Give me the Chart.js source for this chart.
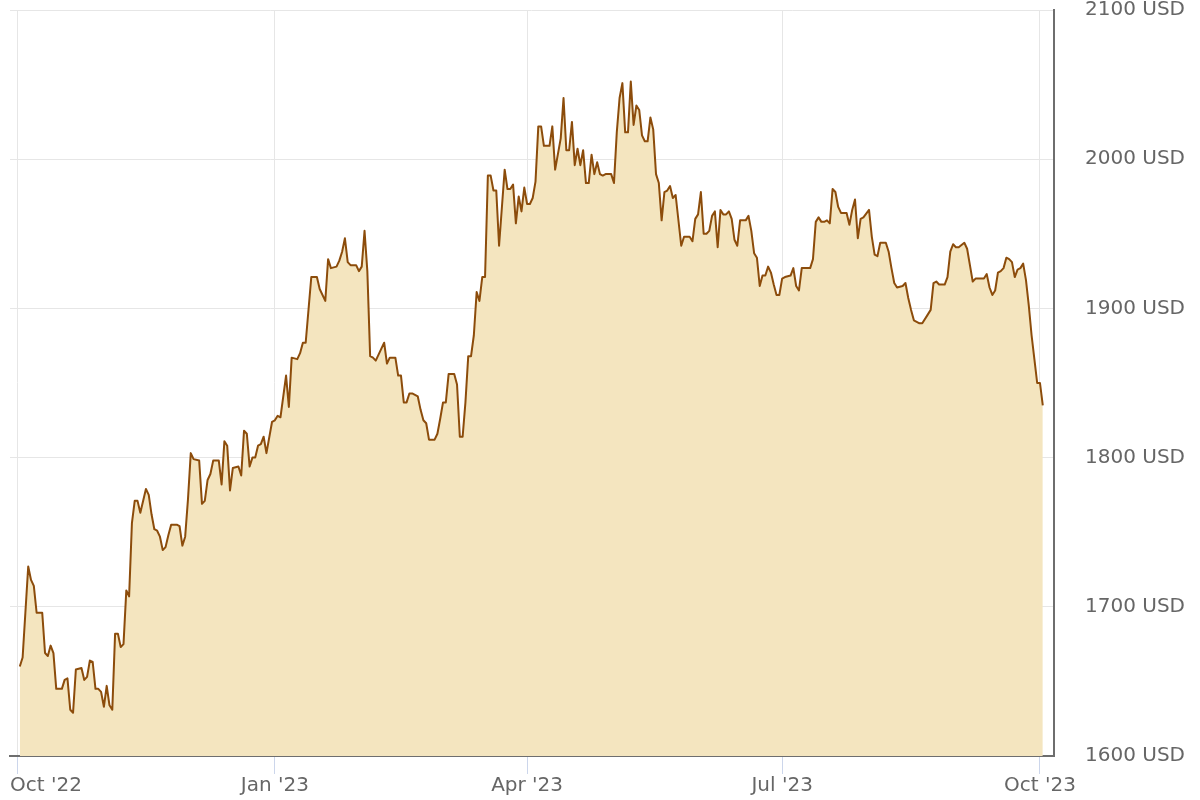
<!DOCTYPE html>
<html>
<head>
<meta charset="utf-8">
<title>Gold price</title>
<script src="https://cdn.jsdelivr.net/npm/chart.js@4.4.1/dist/chart.umd.min.js"></script>
<style>
  html, body { margin: 0; padding: 0; background: #fff; }
  #wrap { width: 1200px; height: 800px; position: relative; }
</style>
</head>
<body>
<div id="wrap"><canvas id="chart"></canvas></div>
<script>
// days counted from 1 Oct 2022 (day 0), price in USD per ounce
const days = [
  1, 2, 4, 5, 6, 7, 9, 10, 11, 12, 13, 14, 16, 17, 18, 19, 20, 21, 23, 24,
  25, 26, 27, 28, 29, 30, 31, 32, 33, 34, 35, 36, 37, 38, 39, 40, 41, 42, 43, 44,
  46, 47, 48, 49, 50, 51, 52, 53, 54, 55, 57, 58, 59, 60, 61, 62, 63, 65, 66, 67,
  68, 69, 70, 72, 73, 74, 75, 76, 77, 79, 80, 81, 82, 83, 84, 85, 86, 87, 88, 89,
  91, 92, 93, 94, 96, 97, 98, 100, 101, 102, 103, 105, 107, 108, 110, 111, 112, 114, 115, 116,
  117, 118, 119, 121, 122, 123, 124, 125, 126, 127, 128, 130, 131, 132, 133, 135, 136, 137, 138, 139,
  140, 141, 143, 144, 145, 146, 147, 149, 150, 151, 152, 153, 154, 156, 157, 158, 159, 160, 161, 162,
  163, 164, 165, 166, 167, 168, 169, 170, 171, 172, 174, 175, 176, 177, 178, 179, 180, 181, 182, 183,
  184, 185, 186, 187, 188, 190, 191, 192, 194, 195, 196, 197, 198, 199, 200, 201, 202, 203, 204, 205,
  206, 207, 208, 209, 210, 212, 213, 214, 215, 216, 217, 218, 219, 220, 221, 222, 223, 224, 225, 226,
  227, 228, 229, 230, 231, 232, 233, 234, 235, 237, 238, 240, 241, 242, 243, 244, 245, 246, 247, 248,
  249, 250, 251, 252, 253, 254, 255, 256, 257, 258, 260, 261, 262, 263, 264, 265, 266, 267, 268, 269,
  270, 271, 272, 273, 274, 276, 277, 278, 279, 280, 281, 283, 284, 285, 286, 287, 288, 289, 290, 291,
  292, 293, 294, 296, 297, 298, 299, 300, 301, 302, 304, 305, 306, 307, 308, 310, 311, 312, 313, 314,
  316, 317, 318, 319, 320, 322, 323, 325, 326, 327, 328, 329, 331, 332, 333, 334, 335, 336, 338, 339,
  340, 341, 342, 343, 345, 346, 347, 348, 349, 350, 351, 352, 353, 354, 355, 356, 357, 358, 359, 360,
  361, 362, 363, 364, 365, 366
];
const prices = [
  1660, 1666, 1727, 1718, 1714, 1696, 1696, 1669, 1667, 1674, 1669, 1645, 1645, 1651, 1652, 1631, 1629, 1658, 1659, 1651,
  1653, 1664, 1663, 1645, 1645, 1643, 1633, 1647, 1634, 1631, 1682, 1682, 1673, 1675, 1711, 1707, 1756, 1771, 1771, 1763,
  1779, 1775, 1762, 1752, 1751, 1747, 1738, 1740, 1748, 1755, 1755, 1754, 1741, 1747, 1772, 1803, 1799, 1798, 1769, 1771,
  1785, 1789, 1798, 1798, 1782, 1811, 1808, 1778, 1793, 1794, 1788, 1818, 1816, 1794, 1800, 1800, 1808, 1809, 1814, 1803,
  1824, 1825, 1828, 1827, 1855, 1834, 1867, 1866, 1870, 1877, 1877, 1921, 1921, 1913, 1905, 1933, 1927, 1928, 1932, 1938,
  1947, 1931, 1929, 1929, 1925, 1928, 1952, 1925, 1868, 1867, 1865, 1873, 1877, 1863, 1867, 1867, 1855, 1855, 1837, 1837,
  1843, 1843, 1841, 1832, 1825, 1823, 1812, 1812, 1816, 1826, 1837, 1837, 1856, 1856, 1849, 1814, 1814, 1837, 1868, 1868,
  1882, 1911, 1905, 1921, 1921, 1989, 1989, 1979, 1979, 1942, 1993, 1980, 1980, 1983, 1957, 1975, 1965, 1981, 1970, 1970,
  1974, 1985, 2022, 2022, 2009, 2009, 2022, 1993, 2014, 2041, 2006, 2006, 2025, 1996, 2007, 1996, 2006, 1984, 1984, 2003,
  1990, 1998, 1990, 1989, 1990, 1990, 1984, 2018, 2041, 2051, 2018, 2018, 2052, 2023, 2036, 2033, 2016, 2012, 2012, 2028,
  2020, 1990, 1984, 1959, 1978, 1979, 1982, 1974, 1976, 1942, 1948, 1948, 1945, 1960, 1963, 1978, 1950, 1950, 1952, 1962,
  1965, 1941, 1966, 1963, 1963, 1965, 1960, 1946, 1942, 1959, 1959, 1962, 1952, 1937, 1934, 1915, 1922, 1922, 1928, 1924,
  1916, 1909, 1909, 1920, 1921, 1922, 1927, 1915, 1912, 1927, 1927, 1927, 1933, 1958, 1961, 1958, 1958, 1959, 1957, 1980,
  1978, 1968, 1964, 1964, 1956, 1966, 1973, 1947, 1960, 1961, 1966, 1948, 1936, 1935, 1944, 1944, 1938, 1927, 1917, 1914,
  1915, 1917, 1907, 1899, 1892, 1890, 1890, 1896, 1899, 1917, 1918, 1916, 1916, 1921, 1938, 1943, 1941, 1941, 1944, 1940,
  1929, 1918, 1920, 1920, 1920, 1923, 1914, 1909, 1912, 1924, 1925, 1927, 1934, 1933, 1931, 1921, 1926, 1927, 1930, 1919,
  1902, 1882, 1866, 1850, 1850, 1835
];

// month ticks: 1 Oct 2022, 1 Jan, 1 Apr, 1 Jul, 1 Oct 2023
const tickDays = [0, 92, 182, 273, 365];
const tickLabels = ["Oct '22", "Jan '23", "Apr '23", "Jul '23", "Oct '23"];
const yTicks = [1600, 1700, 1800, 1900, 2000, 2100];

const X_MIN = -2.5;
const X_MAX = 370;

Chart.defaults.font.family = "'DejaVu Sans', sans-serif";
Chart.defaults.color = '#666';

const points = days.map((d, i) => ({ x: d, y: prices[i] }));

const ctx = document.getElementById('chart').getContext('2d');
new Chart(ctx, {
  type: 'line',
  data: {
    datasets: [{
      data: points,
      borderColor: '#8c4c0b',
      borderWidth: 2,
      borderJoinStyle: 'round',
      backgroundColor: 'rgb(244, 229, 191)',
      fill: 'start',
      pointRadius: 0,
      tension: 0
    }]
  },
  options: {
    responsive: true,
    maintainAspectRatio: false,
    animation: false,
    layout: { padding: { left: 10, top: 10, right: 0, bottom: 0 } },
    plugins: {
      legend: { display: false },
      tooltip: { enabled: false }
    },
    scales: {
      x: {
        type: 'linear',
        min: X_MIN,
        max: X_MAX,
        // extra ticks at both ends so the first label sits at the left edge
        afterBuildTicks: (scale) => {
          scale.ticks = [X_MIN, ...tickDays, X_MAX].map(v => ({ value: v }));
        },
        afterFit: (scale) => {
          scale.height = 44;
          scale.paddingLeft = 0;
          scale.paddingRight = 0;
        },
        ticks: {
          autoSkip: false,
          maxRotation: 0,
          align: 'inner',
          padding: 0,
          font: { size: 20 },
          color: '#666',
          callback: (value) => {
            if (value === X_MIN) return tickLabels[0];
            if (value === 0 || value === X_MAX) return '';
            const i = tickDays.indexOf(value);
            return i >= 0 ? tickLabels[i] : '';
          }
        },
        grid: {
          color: (c) => (c.tick && c.tick.value === X_MIN) ? 'rgba(0,0,0,0)' : '#e6e6e6',
          tickColor: (c) => (c.tick && (c.tick.value === X_MIN || c.tick.value === X_MAX)) ? 'rgba(0,0,0,0)' : '#ccd6eb',
          tickLength: 18,
          lineWidth: 1
        },
        border: { display: true, color: '#6e6e6e', width: 2 }
      },
      y: {
        position: 'right',
        min: 1600,
        max: 2100,
        afterBuildTicks: (scale) => {
          scale.ticks = yTicks.map(v => ({ value: v }));
        },
        afterFit: (scale) => {
          scale.width = 146;
          scale.paddingTop = 0;
          scale.paddingBottom = 0;
        },
        ticks: {
          padding: 31,
          font: { size: 20 },
          color: '#666',
          callback: (value) => value + ' USD'
        },
        grid: {
          color: '#e6e6e6',
          lineWidth: 1,
          drawTicks: false
        },
        border: { display: true, color: '#6e6e6e', width: 2 }
      }
    }
  }
});
</script>
</body>
</html>
